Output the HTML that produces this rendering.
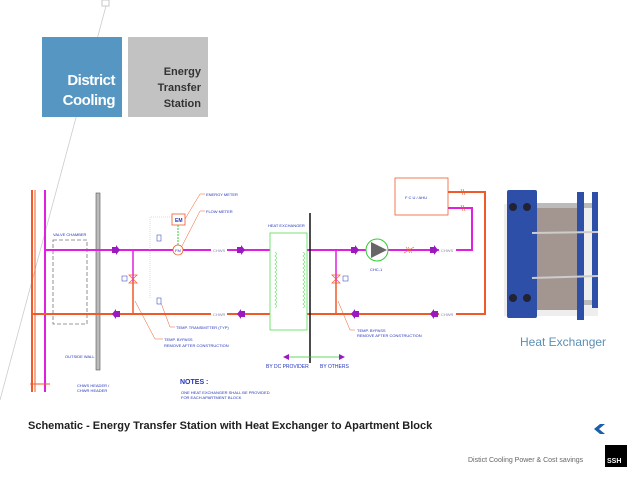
<!DOCTYPE html>
<html><head><meta charset="utf-8"><style>
body{margin:0;width:638px;height:479px;background:#fff;overflow:hidden;position:relative;font-family:"Liberation Sans",sans-serif}
.b{position:absolute;top:37px;width:80px;height:80px;text-align:right;font-weight:bold;box-sizing:border-box;padding-right:7px}
</style></head><body>
<svg width="638" height="479" style="position:absolute;left:0;top:0">
<line x1="106" y1="6" x2="0" y2="400" stroke="#ccc" stroke-width="0.8"/>
<rect x="102" y="0" width="7" height="6" fill="#fff" stroke="#bbb" stroke-width="0.8"/>
<g font-family="Liberation Sans" font-size="4" fill="#2233bb">
<line x1="32" y1="190" x2="32" y2="392" stroke="#f05a28" stroke-width="2"/>
<line x1="35" y1="190" x2="35" y2="392" stroke="#f05a28" stroke-width="1"/>
<line x1="45" y1="190" x2="45" y2="392" stroke="#e020e0" stroke-width="2"/>
<line x1="30" y1="384" x2="50" y2="384" stroke="#f05a28" stroke-width="1"/>
<text x="77" y="387">CHWS HEADER /</text><text x="77" y="392">CHWR HEADER</text>
<rect x="53" y="240" width="34" height="84" fill="none" stroke="#777" stroke-dasharray="4,2" stroke-width="0.8"/>
<text x="53" y="236">VALVE CHAMBER</text>
<rect x="96" y="193" width="4" height="177" fill="#bbb" stroke="#555" stroke-width="0.6"/>
<text x="65" y="358">OUTSIDE WALL</text>
<line x1="45" y1="250" x2="211" y2="250" stroke="#e020e0" stroke-width="2"/>
<line x1="227" y1="250" x2="270" y2="250" stroke="#e020e0" stroke-width="2"/>
<line x1="307" y1="250" x2="367" y2="250" stroke="#e020e0" stroke-width="2"/>
<line x1="388" y1="250" x2="439" y2="250" stroke="#e020e0" stroke-width="2"/>
<polyline points="456,250 472,250 472,208 448,208" fill="none" stroke="#e020e0" stroke-width="2"/>
<text x="213" y="252" fill="#88a">CHWS</text><text x="441" y="252" fill="#88a">CHWS</text>
<line x1="33" y1="314" x2="211" y2="314" stroke="#f05a28" stroke-width="2"/>
<line x1="227" y1="314" x2="270" y2="314" stroke="#f05a28" stroke-width="2"/>
<line x1="307" y1="314" x2="439" y2="314" stroke="#f05a28" stroke-width="2"/>
<polyline points="456,314 485,314 485,192 448,192" fill="none" stroke="#f05a28" stroke-width="2"/>
<text x="213" y="316" fill="#88a">CHWR</text><text x="441" y="316" fill="#88a">CHWR</text>
<line x1="133" y1="250" x2="133" y2="282" stroke="#e020e0" stroke-width="1.5"/>
<line x1="133" y1="282" x2="133" y2="314" stroke="#f05a28" stroke-width="1.5"/>
<line x1="336" y1="250" x2="336" y2="282" stroke="#e020e0" stroke-width="1.5"/>
<line x1="336" y1="282" x2="336" y2="314" stroke="#f05a28" stroke-width="1.5"/>
<path d="M129,275 L137,275 L129,283 L137,283Z M332,275 L340,275 L332,283 L340,283Z" fill="none" stroke="#f05a28" stroke-width="0.7"/>
<rect x="122" y="276" width="5" height="5" fill="none" stroke="#2233bb" stroke-width="0.5"/>
<rect x="343" y="276" width="5" height="5" fill="none" stroke="#2233bb" stroke-width="0.5"/>
<g fill="#9a1ac0">
<path d="M112,247 l4,0 0,-2 4,5 -4,5 0,-2 -4,0z"/><path d="M237,247 l4,0 0,-2 4,5 -4,5 0,-2 -4,0z"/>
<path d="M351,247 l4,0 0,-2 4,5 -4,5 0,-2 -4,0z"/><path d="M430,247 l4,0 0,-2 4,5 -4,5 0,-2 -4,0z"/>
<path d="M120,311 l-4,0 0,-2 -4,5 4,5 0,-2 4,0z"/><path d="M245,311 l-4,0 0,-2 -4,5 4,5 0,-2 4,0z"/>
<path d="M359,311 l-4,0 0,-2 -4,5 4,5 0,-2 4,0z"/><path d="M438,311 l-4,0 0,-2 -4,5 4,5 0,-2 4,0z"/>
</g>
<polyline points="150,298 150,217 172,217" fill="none" stroke="#f8a080" stroke-width="0.5" stroke-dasharray="1,1"/>
<rect x="172" y="214" width="13" height="11" fill="#fff" stroke="#f05a28" stroke-width="0.8"/>
<text x="175" y="222" font-weight="bold" font-size="5">EM</text>
<line x1="178" y1="225" x2="178" y2="245" stroke="#3c3" stroke-dasharray="2,1"/>
<circle cx="178" cy="250" r="5" fill="#fff" stroke="#f05a28" stroke-width="0.8"/>
<text x="175" y="252" font-size="4">FM</text>
<rect x="157" y="235" width="4" height="6" fill="none" stroke="#2233bb" stroke-width="0.5"/>
<rect x="157" y="298" width="4" height="6" fill="none" stroke="#2233bb" stroke-width="0.5"/>
<polyline points="185,219 200,194 205,194" fill="none" stroke="#f05a28" stroke-width="0.5"/>
<polyline points="182,246 200,211 205,211" fill="none" stroke="#f05a28" stroke-width="0.5"/>
<text x="206" y="196">ENERGY METER</text><text x="206" y="213">FLOW METER</text>
<polyline points="161,303 170,327 175,327" fill="none" stroke="#f05a28" stroke-width="0.5"/>
<text x="176" y="329">TEMP. TRANSMITTER (TYP)</text>
<polyline points="135,301 155,339 163,339" fill="none" stroke="#f05a28" stroke-width="0.5"/>
<text x="164" y="341">TEMP. BYPASS</text><text x="164" y="347">REMOVE AFTER CONSTRUCTION</text>
<polyline points="338,301 350,330 355,330" fill="none" stroke="#f05a28" stroke-width="0.5"/>
<text x="357" y="332">TEMP. BYPASS</text><text x="357" y="337">REMOVE AFTER CONSTRUCTION</text>
<rect x="270" y="233" width="37" height="97" fill="none" stroke="#5d5" stroke-width="0.8"/>
<path d="M275,252 q3,2 0,4 q3,2 0,4 q3,2 0,4 q3,2 0,4 q3,2 0,4 q3,2 0,4 q3,2 0,4 q3,2 0,4 q3,2 0,4 q3,2 0,4 q3,2 0,4 q3,2 0,4 q3,2 0,4 q3,2 0,4" fill="none" stroke="#5d5" stroke-width="0.6"/>
<path d="M303,252 q3,2 0,4 q3,2 0,4 q3,2 0,4 q3,2 0,4 q3,2 0,4 q3,2 0,4 q3,2 0,4 q3,2 0,4 q3,2 0,4 q3,2 0,4 q3,2 0,4 q3,2 0,4 q3,2 0,4 q3,2 0,4" fill="none" stroke="#5d5" stroke-width="0.6"/>
<text x="268" y="227">HEAT EXCHANGER</text>
<line x1="310" y1="213" x2="310" y2="363" stroke="#111" stroke-width="1.5"/>
<line x1="287" y1="357" x2="340" y2="357" stroke="#3c3" stroke-width="0.8"/>
<path d="M283,357 l6,-3 0,6z M345,357 l-6,-3 0,6z" fill="#9a1ac0"/>
<text x="266" y="368" font-size="5">BY DC PROVIDER</text><text x="320" y="368" font-size="5">BY OTHERS</text>
<circle cx="377" cy="250" r="11" fill="#fff" stroke="#3c3" stroke-width="1"/>
<path d="M371,242 L387,250 L371,258Z" fill="#666"/>
<text x="370" y="271">CHC-1</text>
<path d="M406,247 l4,6 M408,247 l4,6 M404,253 l10,-6" stroke="#f05a28" stroke-width="0.6" fill="none"/>
<path d="M461,189 l2,6 M463,189 l2,6 M461,205 l2,6 M463,205 l2,6" stroke="#f05a28" stroke-width="0.6"/>
<rect x="395" y="178" width="53" height="37" fill="#fff" stroke="#f05a28" stroke-width="0.8"/>
<text x="405" y="199">F C U / AHU</text>
<text x="180" y="384" font-size="7" font-weight="bold">NOTES :</text>
<text x="181" y="394">ONE HEAT EXCHANGER SHALL BE PROVIDED</text><text x="181" y="399">FOR EACH APARTMENT BLOCK</text>
</g>
<rect x="504" y="204" width="94" height="112" fill="#eee"/>
<rect x="537" y="203" width="60" height="5" fill="#bbb"/>
<rect x="537" y="300" width="60" height="5" fill="#bbb"/>
<rect x="535" y="208" width="44" height="102" fill="#a39690"/>
<rect x="507" y="190" width="30" height="128" fill="#2e4fa8" rx="2"/>
<rect x="577" y="192" width="7" height="128" fill="#2e4fa8"/>
<rect x="592" y="192" width="6" height="116" fill="#2e4fa8"/>
<line x1="532" y1="233" x2="598" y2="232" stroke="#ccc" stroke-width="2"/>
<line x1="532" y1="278" x2="598" y2="276" stroke="#ccc" stroke-width="2"/>
<circle cx="513" cy="207" r="4" fill="#223"/><circle cx="527" cy="207" r="4" fill="#223"/>
<circle cx="513" cy="298" r="4" fill="#223"/><circle cx="527" cy="298" r="4" fill="#223"/>
<path d="M602,424 l-6,5 6,5 -2,0 -6,-5 6,-5z M605,424 l-6,5 6,5 -3,0 -6,-5 6,-5z" fill="#1a5fa8"/>
<rect x="605" y="445" width="22" height="22" fill="#000"/>
</svg>
<div class="b" style="left:42px;background:#5596c2;color:#fff;font-size:15px;line-height:20px;padding-top:34px;letter-spacing:-0.5px">District<br>Cooling</div>
<div class="b" style="left:128px;background:#c2c2c2;color:#333;font-size:11px;line-height:16px;padding-top:27px">Energy<br>Transfer<br>Station</div>
<div style="position:absolute;left:520px;top:335px;font-size:12px;color:#5a90b4">Heat Exchanger</div>
<div style="position:absolute;left:28px;top:420px;font-size:11px;font-weight:bold;color:#222">Schematic - Energy Transfer Station with Heat Exchanger to Apartment Block</div>
<div style="position:absolute;left:468px;top:457px;font-size:7px;color:#666">Distict Cooling Power &amp; Cost savings</div>
<div style="position:absolute;left:607px;top:458px;font-size:7px;font-weight:bold;color:#fff">SSH</div>
</body></html>
